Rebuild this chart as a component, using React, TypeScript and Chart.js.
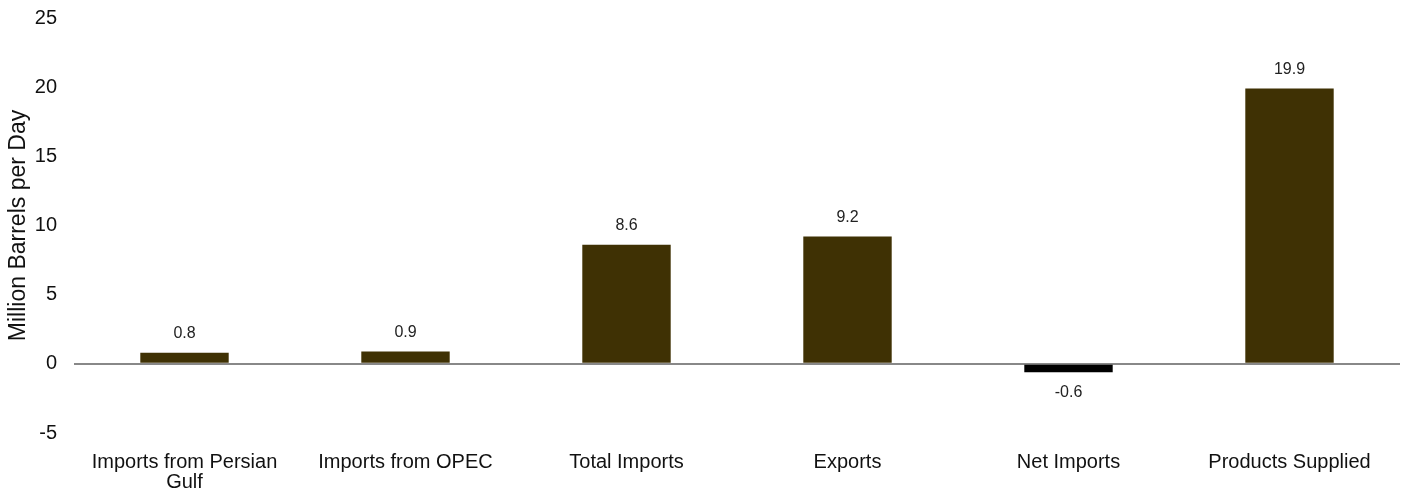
import React, { useEffect, useRef } from "react";
import { Chart, registerables } from "chart.js";

Chart.register(...registerables);

const categories: (string | string[])[] = [
  ["Imports from Persian", "Gulf"],
  "Imports from OPEC",
  "Total Imports",
  "Exports",
  "Net Imports",
  "Products Supplied",
];
const values = [0.8, 0.9, 8.6, 9.2, -0.6, 19.9];
const barColors = ["#3f3104", "#3f3104", "#3f3104", "#3f3104", "#000000", "#3f3104"];
const yTicks = [-5, 0, 5, 10, 15, 20, 25];

const FONT = "'Liberation Sans', Arial, sans-serif";

const labelPlugin = {
  id: "valueLabels",
  afterDatasetsDraw(chart: any) {
    const ctx = chart.ctx;
    const meta = chart.getDatasetMeta(0);
    ctx.save();
    ctx.font = `16px ${FONT}`;
    ctx.fillStyle = "#222";
    ctx.textAlign = "center";
    ctx.textBaseline = "middle";
    meta.data.forEach((bar: any, i: number) => {
      const v = values[i];
      const y = v >= 0 ? bar.y - 19 : bar.y + 20;
      ctx.fillText(v.toFixed(1), bar.x, y);
    });
    ctx.restore();
  },
};

export default function App() {
  const ref = useRef<HTMLCanvasElement>(null);
  useEffect(() => {
    document.body.style.margin = "0";
    const chart = new Chart(ref.current!, {
      type: "bar",
      data: {
        labels: categories,
        datasets: [
          {
            data: values,
            backgroundColor: barColors,
            barPercentage: 0.4,
            categoryPercentage: 1,
          },
        ],
      },
      options: {
        animation: false,
        responsive: false,
        maintainAspectRatio: false,
        layout: { padding: { top: 18, right: 8, left: 5, bottom: 7 } },
        plugins: { legend: { display: false }, tooltip: { enabled: false } },
        scales: {
          x: {
            grid: { display: false, drawTicks: false },
            border: { display: false },
            afterFit: (axis: any) => {
              axis.paddingLeft = 0;
              axis.paddingRight = 0;
              axis.height = 59;
            },
            ticks: {
              color: "#111",
              font: { size: 20, family: FONT, lineHeight: 1.0 },
              maxRotation: 0,
              autoSkip: false,
              padding: 19,
            },
          },
          y: {
            min: -5,
            max: 25,
            afterBuildTicks: (axis: any) => {
              axis.ticks = yTicks.map((v) => ({ value: v }));
            },
            afterFit: (axis: any) => {
              axis.paddingTop = 0;
              axis.paddingBottom = 0;
              axis.width = 69;
            },
            border: { display: false },
            grid: {
              drawTicks: false,
              color: (c: any) => (c.tick && c.tick.value === 0 ? "#888888" : "rgba(0,0,0,0)"),
              lineWidth: 2,
            },
            ticks: {
              color: "#111",
              font: { size: 20, family: FONT },
              padding: 17,
            },
            title: {
              display: true,
              text: "Million Barrels per Day",
              color: "#111",
              font: { size: 23, family: FONT },
              padding: { top: 0, bottom: 4 },
            },
          },
        },
      },
      plugins: [labelPlugin],
    });
    return () => chart.destroy();
  }, []);
  return (
    <div style={{ width: 1408, height: 499 }}>
      <canvas ref={ref} width={1408} height={499} style={{ display: "block" }} />
    </div>
  );
}
